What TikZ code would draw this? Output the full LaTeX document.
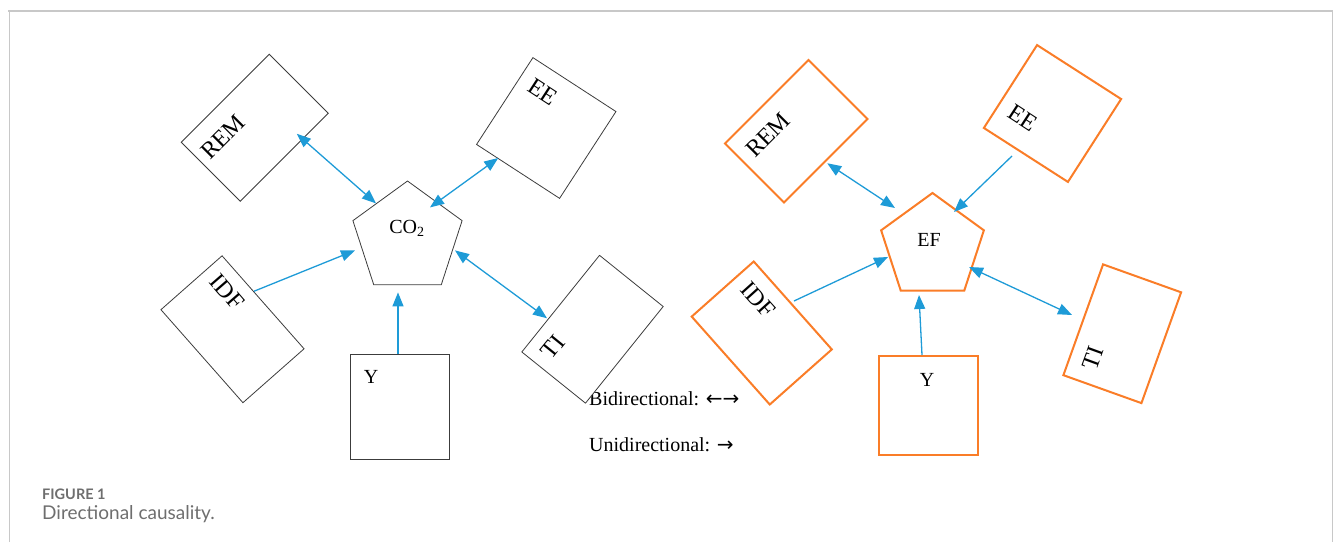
\documentclass[tikz,border=0pt]{standalone}
\usepackage{fontspec}
\setmainfont{Liberation Serif}
\newfontfamily\capfont{Lato}
\newfontfamily\arrfont{DejaVu Sans}
\usetikzlibrary{arrows.meta,calc,shapes.geometric}
\definecolor{boxgray}{RGB}{60,60,60}
\definecolor{boxorange}{RGB}{250,125,40}
\definecolor{arrblue}{RGB}{30,155,215}
\definecolor{capgray}{RGB}{110,110,110}
\definecolor{framegray}{RGB}{200,200,200}
\tikzset{
  varbox/.style={
    shape = rectangle,
    draw = boxgray,
    fill = white,
    line width = 0.8pt,
    inner sep = 0pt
  },
  varboxO/.style={
    varbox,
    draw = boxorange,
    line width = 2pt
  },
  hub/.style={
    regular polygon,
    regular polygon sides = 5,
    draw = boxgray,
    fill = white,
    line width = 0.8pt,
    inner sep = 0pt
  },
  hubO/.style={
    hub,
    draw = boxorange,
    line width = 2pt
  },
  lbl/.style={
    font = \fontsize{20}{24}\selectfont,
    inner sep = 0pt
  },
  rlbl/.style={
    font = \fontsize{24}{28}\selectfont,
    inner sep = 0pt
  },
  bi/.style={
    arrblue,
    line width = 1.3pt,
    {Triangle[length=14pt,width=11pt]}-{Triangle[length=14pt,width=11pt]}
  },
  uni/.style={
    arrblue,
    line width = 1.3pt,
    -{Triangle[length=14pt,width=11pt]}
  }
}
\begin{document}
\begin{tikzpicture}[x=1pt,y=1pt]
    \useasboundingbox (0,0) rectangle (1333,542);
    % frame
    \draw[framegray, line width=0.8pt] (9,0) -- (9,531) (1332,531) -- (1332,0);
    \draw[framegray, line width=2pt] (8,531) -- (1333,531);
    % legend (under the TI box)
    \node[lbl, anchor=west] (legbi) at (589,143) {Bidirectional: {\arrfont ←→}};
    \node[lbl, anchor=west] (leguni) at (589,97) {Unidirectional: {\arrfont →}};
    % left: CO2
    \node[varbox, minimum width=124.5pt, minimum height=83.4pt, rotate=45] (remL) at (254.75,414.25) {};
    \node[varbox, minimum width=99pt, minimum height=103.5pt, rotate=-33] (eeL) at (546.25,414) {};
    \node[varbox, minimum width=124pt, minimum height=81.5pt, rotate=-48.6] (idfL) at (232.5,212.75) {};
    \node[varbox, minimum width=124pt, minimum height=81.7pt, rotate=51.2] (tiL) at (592.5,212.75) {};
    \node[varbox, minimum width=99pt, minimum height=105pt] (yL) at (399.5,135.5) {};
    \node[hub, minimum size=114.8pt] (co2) at (407.5,303.6) {};
    \node[rlbl, rotate=45] at (223,405) {REM};
    \node[rlbl, rotate=-33] at (543,450) {EE};
    \node[rlbl, rotate=-49] at (227,250) {IDF};
    \node[rlbl, rotate=51] at (553,195) {TI};
    \node[lbl] at (371,165) {Y};
    \node[lbl] at (407,314) {CO\textsubscript{2}};
    \draw[bi] ($(remL)+(42,-6)$) -- ($(co2)+(-31.5,35)$);
    \draw[bi] ($(eeL)+(-48,-30)$) -- ($(co2)+(22.5,31)$);
    \draw[uni] ($(idfL)+(21.5,38)$) -- ($(co2)+(-52.5,-12)$);
    \draw[uni] ($(yL.north)+(-1.5,0)$) -- ($(co2)+(-9.5,-54)$);
    \draw[bi] ($(co2)+(47.5,-12)$) -- ($(tiL)+(-45.5,11)$);
    % right: EF
    \node[varboxO, minimum width=118pt, minimum height=83.4pt, rotate=45] (remR) at (796.25,410.75) {};
    \node[varboxO, minimum width=99.9pt, minimum height=98.5pt, rotate=-32.7] (eeR) at (1052.5,428.5) {};
    \node[varboxO, minimum width=117.6pt, minimum height=83pt, rotate=-48.4] (idfR) at (761.75,209) {};
    \node[varboxO, minimum width=117.7pt, minimum height=82.9pt, rotate=70.3] (tiR) at (1122.25,208.25) {};
    \node[varboxO, minimum width=99pt, minimum height=99pt] (yR) at (928.5,136.5) {};
    \node[hubO, minimum size=108pt] (ef) at (932.5,295) {};
    \node[rlbl, rotate=45] at (768,407) {REM};
    \node[rlbl, rotate=-33] at (1023,424) {EE};
    \node[rlbl, rotate=-48] at (758,242) {IDF};
    \node[rlbl, rotate=70] at (1093,184) {TI};
    \node[lbl] at (927,162) {Y};
    \node[lbl] at (929,302) {EF};
    \draw[bi] ($(remR)+(31,-32)$) -- ($(ef)+(-37.5,39)$);
    \draw[uni] ($(eeR)+(-40.5,-42.5)$) -- ($(ef)+(21.5,35)$);
    \draw[uni] ($(idfR)+(32.25,32)$) -- ($(ef)+(-44.5,-10)$);
    \draw[uni] ($(yR.north)+(-6.5,0)$) -- ($(ef)+(-13.5,-48)$);
    \draw[bi] ($(ef)+(36.5,-20)$) -- ($(tiR)+(-50.25,18.75)$);
    % caption
    \node[anchor=base west, inner sep=0pt, text=capgray, font=\capfont\bfseries\fontsize{14.5}{17}\selectfont] (figno) at (42,43) {FIGURE 1};
    \node[anchor=base west, inner sep=0pt, text=capgray, font=\capfont\fontsize{19}{23}\selectfont] (figcap) at (42,23) {Directional causality.};
\end{tikzpicture}
\end{document}
